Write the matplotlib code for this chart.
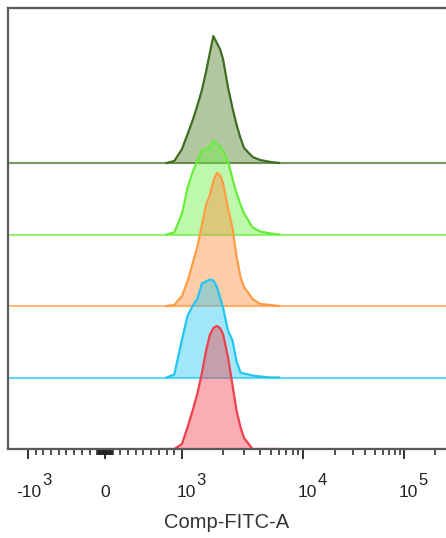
import numpy as np
import matplotlib
matplotlib.use("Agg")
import matplotlib.pyplot as plt
from matplotlib.ticker import FixedLocator, NullFormatter
from matplotlib.transforms import blended_transform_factory, offset_copy

plt.rcParams['font.family'] = ['Liberation Sans', 'DejaVu Sans']

# ---------------- data ----------------
# fluorescence grid (Comp-FITC-A)
fitc = [800, 900, 1000, 1100, 1200, 1300, 1400, 1500, 1600, 1700, 1800, 1900,
        2000, 2200, 2400, 2600, 2800, 3000, 3500, 4000, 5000, 6000]

# counts per sample (top to bottom)
sample1 = [0, 2, 14, 29, 43, 58, 73, 91, 110, 127, 120, 114,
           104, 76, 55, 38, 25, 15, 6, 3, 1, 0]
sample2 = [0, 2, 21, 47, 63, 74, 84, 86, 87, 94, 91, 88,
           84, 73, 56, 41, 30, 21, 7, 3, 1, 0]
sample3 = [0, 1, 10, 25, 43, 60, 81, 101, 111, 125, 133, 131,
           123, 98, 78, 49, 29, 19, 7, 2, 1, 0]
sample4 = [0, 3, 38, 62, 72, 79, 94, 96, 98, 97, 91, 80,
           70, 47, 37, 16, 5, 4, 2, 1, 0, 0]
sample5 = [0, 0, 5, 22, 39, 56, 76, 98, 114, 121, 123, 121,
           115, 92, 64, 38, 22, 11, 0, 0, 0, 0]

series = [sample1, sample2, sample3, sample4, sample5]
line_colors = ['#3f6e22', '#66ee3a', '#ff9c45', '#22c6f0', '#f0404c']
fill_colors = ['#54832f', '#70f048', '#ff9040', '#30c8f2', '#f44a55']

major_ticks = [-1000, 0, 1000, 10000, 100000]
major_labels = [('-10', '3'), ('0', ''), ('10', '3'), ('10', '4'), ('10', '5')]
xlabel = 'Comp-FITC-A'

# ---------------- biexponential-like scale ----------------
_L = np.array([3.0, 3.301, 3.477, 3.602, 4.0, 4.301, 4.477, 4.699, 5.0, 5.301, 6.0])
_U = np.array([77, 118, 139, 155, 198, 230, 248, 270, 299, 330, 402.7])


def fwd(x):
    x = np.asarray(x, dtype=float)
    a = np.abs(x)
    lg = np.log10(np.maximum(a, 1000.0))
    u = np.where(a <= 1000, a * 0.077, np.interp(lg, _L, _U))
    return np.sign(x) * u


def inv(u):
    u = np.asarray(u, dtype=float)
    a = np.abs(u)
    x = np.where(a <= 77, a / 0.077, 10 ** np.interp(a, _U, _L))
    return np.sign(u) * x


# ---------------- figure ----------------
W, H = 446, 538
fig = plt.figure(figsize=(W / 100, H / 100), dpi=100)
ax = fig.add_axes([8 / W, 1 - 449 / H, 439 / W, 441 / H])
ax.set_xscale('function', functions=(fwd, inv))
ax.set_xlim(-1400, 2.6e5)
ax.set_ylim(0, 441)

step = 71.5
n = len(series)
for i, (vals, lc, fc) in enumerate(zip(series, line_colors, fill_colors)):
    off = (n - 1 - i) * step
    y = off + np.asarray(vals, dtype=float)
    z = 2 + i
    ax.fill_between(fitc, off, y, color=fc, alpha=0.45, lw=0, zorder=z)
    ax.axhline(off, color=lc, lw=1.5, alpha=0.7, zorder=z)
    ax.plot(fitc, y, color=lc, lw=1.6, zorder=z + 0.1, solid_joinstyle='round')

for s in ['left', 'top', 'bottom']:
    ax.spines[s].set_color('#5a5a5a')
    ax.spines[s].set_linewidth(1.6)
    ax.spines[s].set_zorder(20)
ax.spines['right'].set_visible(False)

minor = (list(range(-900, 0, 100)) + list(range(100, 1000, 100)) +
         [v for v in range(-90, 100, 10) if v != 0] +
         list(range(2000, 10000, 1000)) + list(range(20000, 100000, 10000)) + [200000])
ax.xaxis.set_major_locator(FixedLocator(major_ticks))
ax.xaxis.set_minor_locator(FixedLocator(minor))
ax.xaxis.set_major_formatter(NullFormatter())
ax.xaxis.set_minor_formatter(NullFormatter())
ax.tick_params(axis='x', which='major', direction='out', length=7.5, width=1.3, color='#222222')
ax.tick_params(axis='x', which='minor', direction='out', length=4.2, width=1.1, color='#222222')
ax.set_yticks([])

tr = blended_transform_factory(ax.transData, ax.transAxes)
for t, (base, exp) in zip(major_ticks, major_labels):
    if exp == '':
        ax.text(t, 0, base, transform=offset_copy(tr, fig=fig, x=0, y=-31, units='points'),
                ha='center', va='center', fontsize=12.5, color='#222222')
    else:
        ax.text(t, 0, base, transform=offset_copy(tr, fig=fig, x=10.0, y=-31, units='points'),
                ha='right', va='center', fontsize=12.5, color='#222222')
        ax.text(t, 0, exp, transform=offset_copy(tr, fig=fig, x=10.6, y=-23, units='points'),
                ha='left', va='center', fontsize=12, color='#222222')

fig.text(227 / W, 1 - 523 / H, xlabel, ha='center', va='center', fontsize=14.5, color='#333333')

fig.savefig('out.png', dpi=100)
